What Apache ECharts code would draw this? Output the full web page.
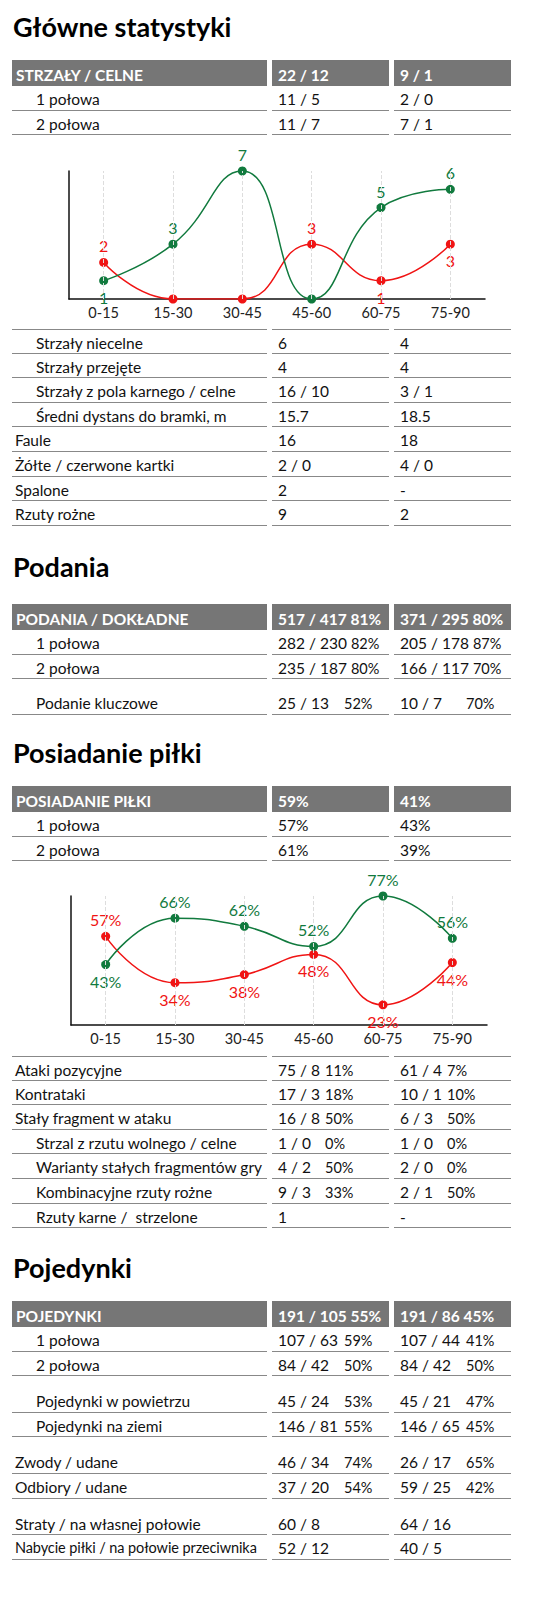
<!DOCTYPE html>
<html><head><meta charset="utf-8">
<script src="https://cdn.jsdelivr.net/npm/echarts@6/dist/echarts.min.js"></script>
<style>
body{margin:0;width:559px;height:1600px;background:#fff;font-family:Lato,"Open Sans",sans-serif;color:#111;position:relative;overflow:hidden}
.t{position:absolute;left:13px;font-size:27px;font-weight:bold;line-height:36px;color:#000}
.r{position:absolute;left:12px;width:499px;height:24.6px}
.c{position:absolute;top:0;height:100%;box-sizing:border-box;border-bottom:1.5px solid #888;font-size:15.5px;line-height:26px;white-space:pre}
.c1{left:0;width:255px}.c2{left:260px;width:117px;padding-left:6px}.c3{left:382px;width:117px;padding-left:6px}
.h .c{background:#767676;color:#fff;font-weight:bold;border:none;line-height:30px;font-size:15.5px}
.h .c1{padding-left:4px}
.v{display:inline-block}.p{font-size:14.5px;margin-left:4px}
.tb .c{border-top:1.5px solid #888}
.ch{position:absolute;left:0;width:559px}
</style></head><body>
<script>
// ---- data ----
const periods=["0-15","15-30","30-45","45-60","60-75","75-90"];
const shotsHome=[1,3,7,0,5,6];
const shotsAway=[2,0,0,3,1,3];
const possHome=[43,66,62,52,77,56];
const possAway=[57,34,38,48,23,44];
// rows: [label, v2, p2, v3, p3, indent]
const shotsHeader=["STRZAŁY / CELNE","22 / 12","","9 / 1",""];
const shotsHalves=[["1 połowa","11 / 5","","2 / 0","",1],["2 połowa","11 / 7","","7 / 1","",1]];
const shotsRows=[["Strzały niecelne","6","","4","",1],["Strzały przejęte","4","","4","",1],["Strzały z pola karnego / celne","16 / 10","","3 / 1","",1],["Średni dystans do bramki, m","15.7","","18.5","",1],["Faule","16","","18","",0],["Żółte / czerwone kartki","2 / 0","","4 / 0","",0],["Spalone","2","","-","",0],["Rzuty rożne","9","","2","",0]];
const passHeader=["PODANIA / DOKŁADNE","517 / 417","81%","371 / 295","80%"];
const passHalves=[["1 połowa","282 / 230","82%","205 / 178","87%",1],["2 połowa","235 / 187","80%","166 / 117","70%",1]];
const passKey=[["Podanie kluczowe","25 / 13","52%","10 / 7","70%",1]];
const possHeader=["POSIADANIE PIŁKI","59%","","41%",""];
const possHalves=[["1 połowa","57%","","43%","",1],["2 połowa","61%","","39%","",1]];
const attackRows=[["Ataki pozycyjne","75 / 8","11%","61 / 4","7%",0],["Kontrataki","17 / 3","18%","10 / 1","10%",0],["Stały fragment w ataku","16 / 8","50%","6 / 3","50%",0],["Strzal z rzutu wolnego / celne","1 / 0","0%","1 / 0","0%",1],["Warianty stałych fragmentów gry","4 / 2","50%","2 / 0","0%",1],["Kombinacyjne rzuty rożne","9 / 3","33%","2 / 1","50%",1],["Rzuty karne /  strzelone","1","","-","",1]];
const duelHeader=["POJEDYNKI","191 / 105","55%","191 / 86","45%"];
const duelHalves=[["1 połowa","107 / 63","59%","107 / 44","41%",1],["2 połowa","84 / 42","50%","84 / 42","50%",1]];
const duelType=[["Pojedynki w powietrzu","45 / 24","53%","45 / 21","47%",1],["Pojedynki na ziemi","146 / 81","55%","146 / 65","45%",1]];
const dribbleRows=[["Zwody / udane","46 / 34","74%","26 / 17","65%",0],["Odbiory / udane","37 / 20","54%","59 / 25","42%",0]];
const lossRows=[["Straty / na własnej połowie","60 / 8","","64 / 16","",0],["Nabycie piłki / na połowie przeciwnika","52 / 12","","40 / 5","",0]];

// ---- layout ----
const RH=24.6;
function el(cls,top,h){const d=document.createElement('div');d.className=cls;d.style.top=top+'px';if(h)d.style.height=h+'px';document.body.appendChild(d);return d;}
function title(txt,cy){el('t',cy-18).textContent=txt;}
function cell(v,p,mw){let s='<span class="v" style="min-width:'+(p?mw:0)+'px">'+v+'</span>';if(p)s+='<span class="p">'+p+'</span>';return s;}
function header(r,top){const d=el('r h',top,26);d.innerHTML='<div class="c c1">'+r[0]+'</div><div class="c c2">'+r[1]+(r[2]?' '+r[2]:'')+'</div><div class="c c3">'+r[3]+(r[4]?' '+r[4]:'')+'</div>';return top+26;}
function rows(list,top,mw,topBorder){list.forEach((r,i)=>{const d=el('r'+(topBorder&&i==0?' tb':''),top,RH);
 const fs=r[0].length>34?'font-size:14.5px;letter-spacing:-0.1px;':'';
 d.innerHTML='<div class="c c1" style="'+fs+'padding-left:'+(r[5]?24:3)+'px">'+r[0]+'</div><div class="c c2">'+cell(r[1],r[2],mw)+'</div><div class="c c3">'+cell(r[3],r[4],mw)+'</div>';top+=RH;});return top;}
function chart(top,h,cats,home,away,min,max,grid,suffix){
 const d=el('ch',top,h);const c=echarts.init(d,null,{renderer:'svg'});
 const G='#117a3e',R='#f01414';
 const mk=(col,isHome)=>({type:'line',smooth:0.5,symbol:'circle',symbolSize:9,
  itemStyle:{color:col},lineStyle:{color:col,width:1.5},z:isHome?3:2,
  label:{show:true,color:col,fontSize:16,fontFamily:'Lato',formatter:p=>p.value===0?'':p.value+suffix},
  markLine:isHome?{silent:true,symbol:'none',label:{show:false},lineStyle:{color:'#ddd',type:'dashed',width:1},data:cats.map(x=>({xAxis:x}))}:undefined});
 const sh=mk(G,true),sa=mk(R,false);
 sh.data=home.map((v,i)=>({value:v,label:{position:v>=away[i]?'top':'bottom',distance:4}}));
 sa.data=away.map((v,i)=>({value:v,label:{position:v>home[i]?'top':'bottom',distance:4}}));
 c.setOption({animation:false,grid:grid,
  xAxis:{type:'category',data:cats,axisLine:{lineStyle:{color:'#111',width:1.5}},axisTick:{show:false},axisLabel:{color:'#222',fontSize:14.5,fontFamily:'Lato',margin:6}},
  yAxis:{type:'value',min:min,max:max,axisLine:{show:true,lineStyle:{color:'#111',width:1.5}},axisLabel:{show:false},axisTick:{show:false},splitLine:{show:false}},
  series:[sh,sa]});
}

title("Główne statystyki",27);
let y=header(shotsHeader,60);
y=rows(shotsHalves,y,0);
chart(y,194,periods,shotsHome,shotsAway,0,7,{left:69,right:74,top:36,bottom:30},'');
rows(shotsRows,329,0,true);

title("Podania",567);
y=header(passHeader,604);
y=rows(passHalves,y,62);
rows(passKey,690.4,62);

title("Posiadanie piłki",753);
y=header(possHeader,786);
y=rows(possHalves,y,0);
chart(861,195,periods,possHome,possAway,13,77,{left:71,right:72,top:35,bottom:31},'%');
rows(attackRows,1056,43,true);

title("Pojedynki",1268);
y=header(duelHeader,1301);
y=rows(duelHalves,y,62);
y=rows(duelType,y+12,62);
y=rows(dribbleRows,y+12,62);
rows(lossRows,y+12,62);
</script>
</body></html>
